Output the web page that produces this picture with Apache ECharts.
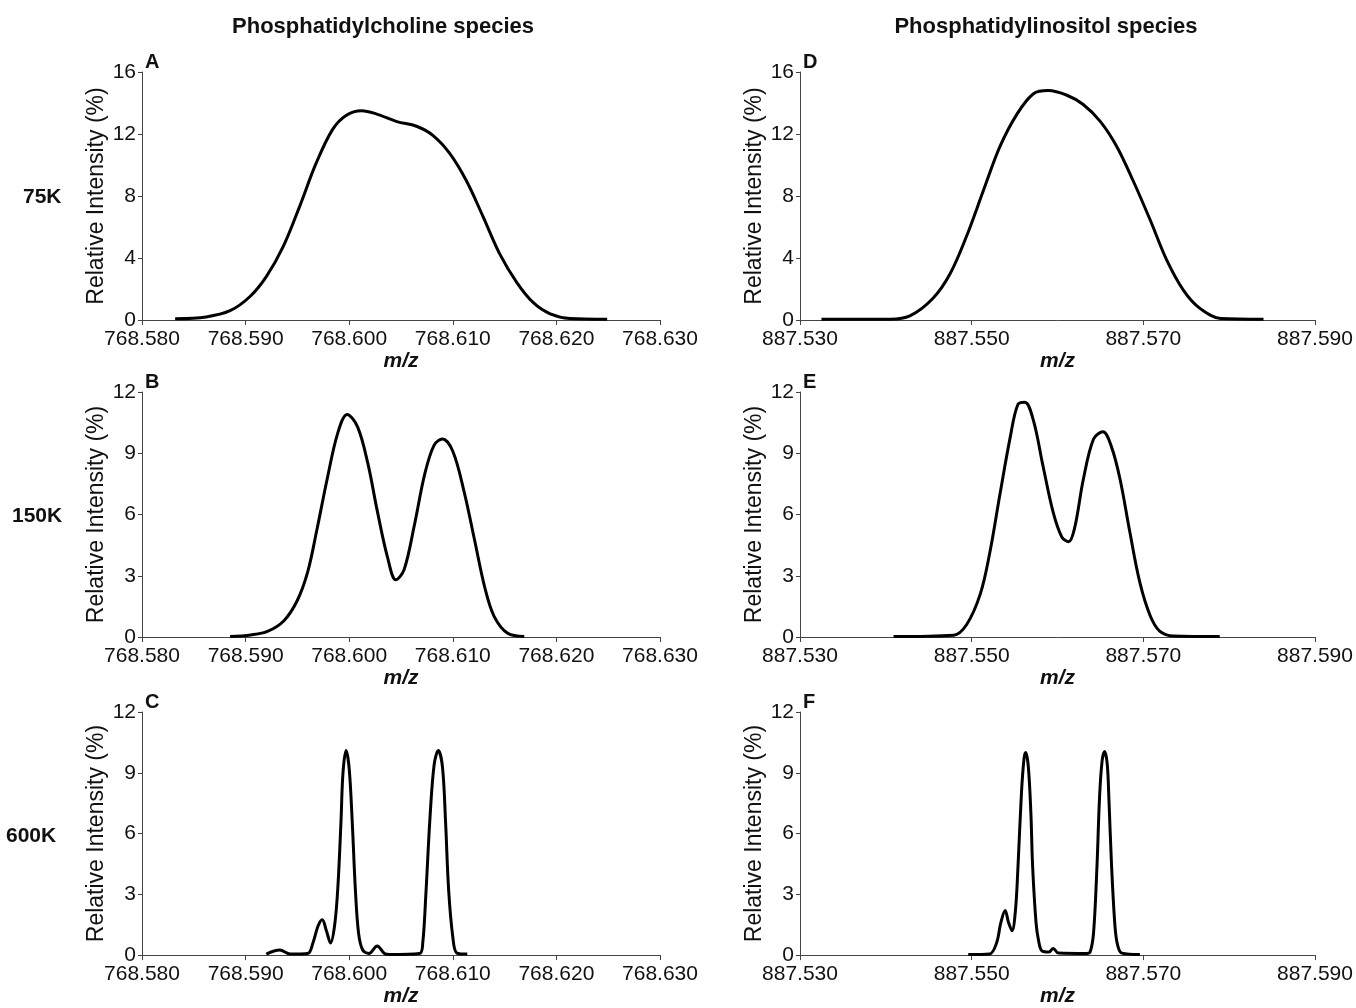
<!DOCTYPE html>
<html>
<head>
<meta charset="utf-8">
<script src="https://cdn.jsdelivr.net/npm/echarts@6/dist/echarts.min.js"></script>
<style>
  html, body { margin: 0; padding: 0; background: #fff; }
  #chart { width: 1356px; height: 1008px; }
</style>
</head>
<body>
<div id="chart"></div>
<script>
// m/z, relative intensity (%)
var pcA = [
  [768.5832, 0.08], [768.5862, 0.2], [768.5885, 0.6], [768.5904, 1.5], [768.5920, 2.8],
  [768.5936, 4.7], [768.5952, 7.3], [768.5968, 10.1], [768.5984, 12.3], [768.5997, 13.2],
  [768.6012, 13.5], [768.6026, 13.3], [768.6046, 12.8], [768.6065, 12.5], [768.6081, 11.9],
  [768.6097, 10.75], [768.6113, 9.0], [768.6129, 6.7], [768.6145, 4.3], [768.6162, 2.4],
  [768.6178, 1.1], [768.6194, 0.4], [768.6213, 0.1], [768.6249, 0.05]
];
var pcB = [
  [768.5885, 0.02], [768.5905, 0.1], [768.5921, 0.27], [768.5937, 0.8], [768.5950, 1.8],
  [768.5960, 3.2], [768.5969, 5.3], [768.5979, 7.8], [768.5989, 10.0], [768.5998, 10.9],
  [768.6008, 10.3], [768.6018, 8.5], [768.6027, 6.2], [768.6037, 3.9], [768.6045, 2.8],
  [768.6053, 3.3], [768.6063, 5.5], [768.6073, 8.0], [768.6082, 9.4], [768.6090, 9.7],
  [768.6100, 9.1], [768.6111, 7.1], [768.6121, 4.75], [768.6131, 2.4], [768.6140, 1.0],
  [768.6153, 0.18], [768.6169, 0.03]
];
var pcC = [
  [768.5920, 0.05], [768.5933, 0.25], [768.5943, 0.05], [768.5960, 0.08], [768.5965, 0.6],
  [768.5970, 1.45], [768.5974, 1.75], [768.5978, 1.2], [768.5982, 0.6], [768.5986, 1.5],
  [768.5989, 3.3], [768.5992, 6.5], [768.5994, 9.0], [768.5997, 10.1], [768.6000, 9.2],
  [768.6003, 6.5], [768.6006, 3.2], [768.6009, 1.1], [768.6013, 0.25], [768.6019, 0.08],
  [768.6027, 0.45], [768.6034, 0.08], [768.6039, 0.03], [768.6068, 0.08], [768.6071, 0.6],
  [768.6074, 3.0], [768.6078, 6.8], [768.6082, 9.4], [768.6086, 10.1], [768.6090, 9.3],
  [768.6093, 6.6], [768.6096, 3.2], [768.6100, 0.9], [768.6104, 0.1], [768.6114, 0.05]
];
var piD = [
  [887.5325, 0.05], [887.5405, 0.05], [887.5428, 0.26], [887.5455, 1.4], [887.5475, 3.0],
  [887.5494, 5.4], [887.5514, 8.4], [887.5533, 11.2], [887.5553, 13.3], [887.5572, 14.6],
  [887.5589, 14.8], [887.5611, 14.5], [887.5630, 13.9], [887.5650, 12.8], [887.5669, 11.2],
  [887.5688, 9.0], [887.5708, 6.45], [887.5727, 3.9], [887.5747, 1.9], [887.5766, 0.75],
  [887.5790, 0.1], [887.5840, 0.05]
];
var piE = [
  [887.5409, 0.02], [887.5479, 0.09], [887.5494, 0.6], [887.5510, 2.1], [887.5521, 4.1],
  [887.5533, 7.0], [887.5545, 9.8], [887.5554, 11.4], [887.5562, 11.5], [887.5572, 10.6],
  [887.5583, 8.4], [887.5595, 6.1], [887.5605, 4.9], [887.5613, 4.67], [887.5620, 5.35],
  [887.5630, 7.7], [887.5642, 9.7], [887.5653, 10.05], [887.5663, 9.3], [887.5673, 7.7],
  [887.5684, 5.2], [887.5696, 2.66], [887.5708, 1.04], [887.5719, 0.29], [887.5735, 0.05],
  [887.5789, 0.02]
];
var piF = [
  [887.5496, 0.03], [887.5521, 0.06], [887.5529, 0.6], [887.5534, 1.6], [887.5539, 2.2],
  [887.5543, 1.6], [887.5547, 1.2], [887.5551, 2.2], [887.5554, 4.4], [887.5558, 8.0],
  [887.5561, 9.7], [887.5563, 10.0], [887.5566, 9.3], [887.5569, 7.0], [887.5571, 4.4],
  [887.5575, 1.6], [887.5578, 0.7], [887.5582, 0.2], [887.5590, 0.15], [887.5595, 0.33],
  [887.5601, 0.1], [887.5634, 0.08], [887.5638, 0.15], [887.5642, 1.1], [887.5646, 4.4],
  [887.5649, 7.8], [887.5652, 9.6], [887.5655, 10.05], [887.5658, 9.4], [887.5660, 7.6],
  [887.5663, 4.4], [887.5667, 1.4], [887.5670, 0.5], [887.5675, 0.1], [887.5696, 0.03]
];

// tick labels
var pcTicks = [768.58, 768.59, 768.60, 768.61, 768.62, 768.63];
var piTicks = [887.53, 887.55, 887.57, 887.59];
var yTicks16 = [0, 4, 8, 12, 16];
var yTicks12 = [0, 3, 6, 9, 12];

var panelLetters = ['A', 'B', 'C', 'D', 'E', 'F'];
var rowNames = ['75K', '150K', '600K'];
var colTitles = ['Phosphatidylcholine species', 'Phosphatidylinositol species'];

var chart = echarts.init(document.getElementById('chart'));

var FONT = 'Liberation Sans, Arial, sans-serif';
var colLeft = [142, 800];
var colWidth = [518, 515];
var rowTop = [72, 392, 712];
var rowHeight = [248, 245, 246];

var panels = [
  { data: pcA, ticks: pcTicks, y: yTicks16, col: 0, row: 0 },
  { data: pcB, ticks: pcTicks, y: yTicks12, col: 0, row: 1 },
  { data: pcC, ticks: pcTicks, y: yTicks12, col: 0, row: 2 },
  { data: piD, ticks: piTicks, y: yTicks16, col: 1, row: 0 },
  { data: piE, ticks: piTicks, y: yTicks12, col: 1, row: 1 },
  { data: piF, ticks: piTicks, y: yTicks12, col: 1, row: 2 }
];

var axisLine = { show: true, lineStyle: { color: '#444', width: 1 } };

var grids = [], xAxes = [], yAxes = [], series = [], texts = [];

panels.forEach(function (p, i) {
  grids.push({
    left: colLeft[p.col], top: rowTop[p.row],
    width: colWidth[p.col], height: rowHeight[p.row]
  });
  xAxes.push({
    type: 'value', gridIndex: i,
    min: p.ticks[0], max: p.ticks[p.ticks.length - 1],
    name: 'm/z', nameLocation: 'middle', nameGap: 27,
    nameTextStyle: { fontFamily: FONT, fontSize: 21, fontStyle: 'italic', fontWeight: 'bold', color: '#111' },
    axisLine: axisLine,
    axisTick: { show: true, length: 5, customValues: p.ticks, lineStyle: { color: '#444' } },
    axisLabel: {
      customValues: p.ticks, margin: 9,
      fontFamily: FONT, fontSize: 21, color: '#111',
      formatter: function (v) { return v.toFixed(3); }
    },
    splitLine: { show: false }
  });
  yAxes.push({
    type: 'value', gridIndex: i,
    min: 0, max: p.y[p.y.length - 1], interval: p.y[1] - p.y[0],
    name: 'Relative Intensity (%)', nameLocation: 'middle', nameGap: 34,
    nameTextStyle: { fontFamily: FONT, fontSize: 23, color: '#111' },
    axisLine: axisLine,
    axisTick: { show: true, length: 4, lineStyle: { color: '#444' } },
    axisLabel: { margin: 6, fontFamily: FONT, fontSize: 21, color: '#111' },
    splitLine: { show: false }
  });
  series.push({
    type: 'line', xAxisIndex: i, yAxisIndex: i,
    data: p.data, showSymbol: false, smooth: 0.35,
    lineStyle: { color: '#000', width: 3 },
    silent: true
  });
  texts.push({
    type: 'text',
    x: colLeft[p.col] + 3, y: rowTop[p.row] - 20,
    style: { text: panelLetters[i], font: 'bold 20px ' + FONT, fill: '#111' }
  });
});

var rowLeft = [23, 12, 6];
rowNames.forEach(function (name, r) {
  texts.push({
    type: 'text', x: rowLeft[r], y: rowTop[r] + rowHeight[r] / 2 - 9,
    style: { text: name, font: 'bold 21px ' + FONT, fill: '#111' }
  });
});

var titleX = [383, 1046];
colTitles.forEach(function (t, c) {
  texts.push({
    type: 'text', x: titleX[c], y: 16,
    style: { text: t, font: 'bold 22px ' + FONT, fill: '#111', align: 'center' }
  });
});

var option = {
  backgroundColor: '#fff',
  animation: false,
  grid: grids,
  xAxis: xAxes,
  yAxis: yAxes,
  series: series,
  graphic: texts
};

chart.setOption(option);
</script>
</body>
</html>
